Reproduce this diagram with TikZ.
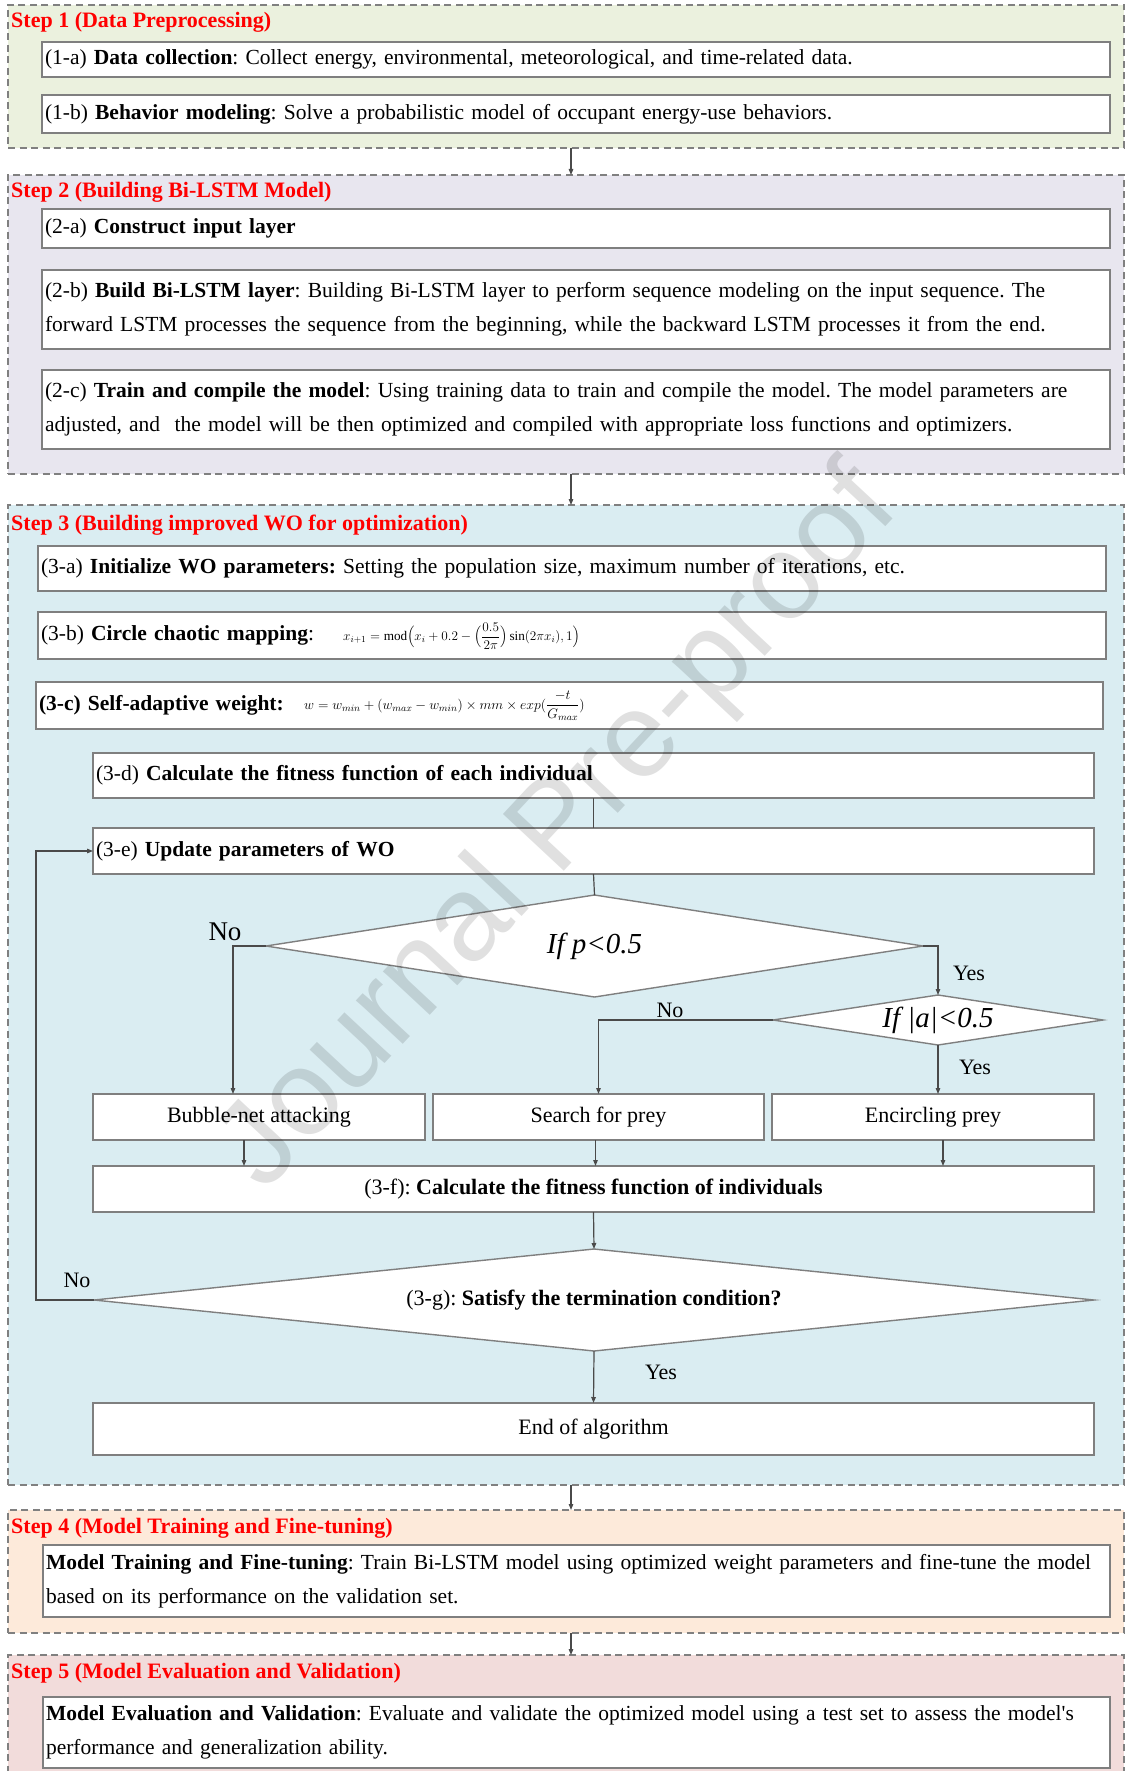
\RequirePackage{fix-cm}
\documentclass[tikz,border=0pt]{standalone}
\usepackage{amsmath}
\usepackage{fontspec}
\setmainfont{Liberation Serif}[Ligatures=TeXOff]
\newfontfamily\markfont{Liberation Sans}
\usetikzlibrary{arrows.meta,shapes.geometric,calc}
\frenchspacing

\definecolor{framegray}{HTML}{808080}
\definecolor{edgegray}{HTML}{7F7F7F}
\definecolor{linkgray}{HTML}{4A4A4A}
\definecolor{stepA}{HTML}{EBF1DE}
\definecolor{stepB}{HTML}{E8E6EF}
\definecolor{stepC}{HTML}{DAEDF2}
\definecolor{stepD}{HTML}{FDEADA}
\definecolor{stepE}{HTML}{F2DCDB}

\newcommand\bodyfont{\fontsize{21.5}{34}\selectfont}
\newcommand\flowfont{\fontsize{22}{34}\selectfont}
\newcommand\titlefont{\fontsize{22}{26}\selectfont\bfseries}

\begin{document}
\begin{tikzpicture}[x=1pt,y=-1pt,
  stepframe/.style={draw=framegray, line width=1.4pt, dash pattern=on 7pt off 4.5pt,
    anchor=north west, inner sep=0pt, outer sep=0pt},
  steptitle/.style={anchor=base west, text=red, font=\titlefont, inner sep=0pt},
  inbox/.style={draw=edgegray, line width=1.4pt, fill=white, anchor=north west,
    inner xsep=3pt, inner ysep=0pt, outer sep=0pt, align=left, font=\bodyfont},
  flowbox/.style={draw=edgegray, line width=1.4pt, fill=white, anchor=north west,
    inner sep=0pt, outer sep=0pt, align=center, font=\flowfont},
  decision/.style={draw=edgegray, line width=1.4pt, fill=white, shape=diamond,
    inner sep=0pt, outer sep=0pt},
  link/.style={draw=linkgray, line width=1.2pt},
  arr/.style={link, -{Triangle[length=6pt,width=4.5pt]}},
  lbl/.style={font=\flowfont, inner sep=0pt},
]
\useasboundingbox (0,0) rectangle (1126,1771);
\clip (0,0) rectangle (1126,1771);

% ---- step containers ----
\node[stepframe, fill=stepA, minimum width=1116pt, minimum height=143pt] (s1) at (8,5) {};
\node[stepframe, fill=stepB, minimum width=1116pt, minimum height=299pt] (s2) at (8,175) {};
\node[stepframe, fill=stepC, minimum width=1116pt, minimum height=980pt] (s3) at (8,505) {};
\node[stepframe, fill=stepD, minimum width=1116pt, minimum height=123pt] (s4) at (8,1510) {};
\node[stepframe, fill=stepE, minimum width=1116pt, minimum height=130pt] (s5) at (8,1655) {};

\node[steptitle] (t1) at (11,27.5) {Step 1 (Data Preprocessing)};
\node[steptitle] (t2) at (11,198) {Step 2 (Building Bi-LSTM Model)};
\node[steptitle] (t3) at (11,530) {Step 3 (Building improved WO for optimization)};
\node[steptitle] (t4) at (11,1533) {Step 4 (Model Training and Fine-tuning)};
\node[steptitle] (t5) at (11,1678) {Step 5 (Model Evaluation and Validation)};

% ---- step 1 ----
\node[inbox, minimum width=1068pt, minimum height=35pt, text width=1062pt] (b1a) at (42,42)
  {(1-a) \textbf{Data collection}: Collect energy, environmental, meteorological, and time-related data.};
\node[inbox, minimum width=1068pt, minimum height=38pt, text width=1062pt] (b1b) at (42,95)
  {(1-b) \textbf{Behavior modeling}: Solve a probabilistic model of occupant energy-use behaviors.};

% ---- step 2 ----
\node[inbox, minimum width=1068pt, minimum height=39pt, text width=1062pt] (b2a) at (42,209)
  {(2-a) \textbf{Construct input layer}};
\node[inbox, minimum width=1068pt, minimum height=79pt, text width=1062pt] (b2b) at (42,270)
  {\mbox{(2-b) \textbf{Build Bi-LSTM layer}: Building Bi-LSTM layer to perform sequence modeling on the input sequence. The}\\
   \mbox{forward LSTM processes the sequence from the beginning, while the backward LSTM processes it from the end.}};
\node[inbox, minimum width=1068pt, minimum height=79pt, text width=1062pt] (b2c) at (42,370)
  {\mbox{(2-c) \textbf{Train and compile the model}: Using training data to train and compile the model. The model parameters are}\\
   \mbox{adjusted, and\ \ the model will be then optimized and compiled with appropriate loss functions and optimizers.}};

% ---- step 3 ----
\node[inbox, minimum width=1068pt, minimum height=45pt, text width=1062pt] (b3a) at (38,546)
  {(3-a) \textbf{Initialize WO parameters:} Setting the population size, maximum number of iterations, etc.};
\node[inbox, minimum width=1068pt, minimum height=47pt, text width=1062pt] (b3b) at (38,612)
  {(3-b) \textbf{Circle chaotic mapping}:};
\node[anchor=west, inner sep=0pt, font=\fontsize{13.2}{15}\selectfont] (f3b) at (343,636)
  {$x_{i+1} = \mathrm{mod}\Bigl(x_i + 0.2 - \Bigl(\dfrac{0.5}{2\pi}\Bigr)\sin(2\pi x_i), 1\Bigr)$};
\node[inbox, minimum width=1067pt, minimum height=47pt, text width=1061pt] (b3c) at (36,682)
  {\textbf{(3-c) Self-adaptive weight:}};
\node[anchor=west, inner sep=0pt, font=\fontsize{13.8}{15}\selectfont] (f3c) at (304,706)
  {$w = w_{min} + (w_{max} - w_{min}) \times mm \times exp(\dfrac{-t}{G_{max}})$};

\node[inbox, minimum width=1001pt, minimum height=45pt, text width=995pt] (b3d) at (93,753)
  {(3-d) \textbf{Calculate the fitness function of each individual}};
\node[inbox, minimum width=1001pt, minimum height=46pt, text width=995pt] (b3e) at (93,828)
  {(3-e) \textbf{Update parameters of WO}};

\node[decision, minimum width=657pt, minimum height=102pt, aspect=6.4,
      font=\fontsize{29}{32}\selectfont\itshape] (d1) at (594.5,946) {If p<0.5};
\node[decision, minimum width=330pt, minimum height=50pt, aspect=6.6,
      font=\fontsize{29}{32}\selectfont\itshape] (d2) at (938,1020) {If |a|<0.5};

\node[flowbox, minimum width=332pt, minimum height=46pt] (bub) at (93,1094) {Bubble-net attacking};
\node[flowbox, minimum width=331pt, minimum height=46pt] (srch) at (433,1094) {Search for prey};
\node[flowbox, minimum width=322pt, minimum height=46pt] (enc) at (772,1094) {Encircling prey};

\node[flowbox, minimum width=1001pt, minimum height=46pt] (b3f) at (93,1166)
  {(3-f): \textbf{Calculate the fitness function of individuals}};

\node[decision, minimum width=1000pt, minimum height=102pt, aspect=9.8, font=\flowfont] (d3) at (594,1300)
  {(3-g): \textbf{Satisfy the termination condition?}};

\node[flowbox, minimum width=1001pt, minimum height=52pt] (fin) at (93,1403) {End of algorithm};

% ---- step 4 and step 5 ----
\node[inbox, minimum width=1067pt, minimum height=72pt, text width=1061pt] (b4) at (43,1545)
  {\mbox{\textbf{Model Training and Fine-tuning}: Train Bi-LSTM model using optimized weight parameters and fine-tune the model}\\
   \mbox{based on its performance on the validation set.}};
\node[inbox, minimum width=1067pt, minimum height=71pt, text width=1061pt] (b5) at (43,1697)
  {\mbox{\textbf{Model Evaluation and Validation}: Evaluate and validate the optimized model using a test set to assess the model's}\\
   \mbox{performance and generalization ability.}};

% ---- connectors between steps ----
\draw[arr] ([xshift=5pt]s1.south) -- ([xshift=5pt]s2.north);
\draw[arr] ([xshift=5pt]s2.south) -- ([xshift=5pt]s3.north);
\draw[arr] ([xshift=5pt]s3.south) -- ([xshift=5pt]s4.north);
\draw[arr] ([xshift=5pt]s4.south) -- ([xshift=5pt]s5.north);

% ---- optimisation loop ----
\draw[link] (b3d.south) -- (b3e.north);
\draw[link] (b3e.south) -- (d1.north);
\draw[arr] (d1.west) -| ([xshift=-26pt]bub.north);
\draw[arr] (d1.east) -| (d2.north);
\draw[arr] (d2.west) -| (srch.north);
\draw[arr] (d2.south) -- (d2.south |- enc.north);
\draw[arr] ([xshift=-15pt]bub.south) -- ([xshift=-15pt]bub.south |- b3f.north);
\draw[arr] ([xshift=-3pt]srch.south) -- ([xshift=-3pt]srch.south |- b3f.north);
\draw[arr] ([xshift=10pt]enc.south) -- ([xshift=10pt]enc.south |- b3f.north);
\draw[arr] (b3f.south) -- (d3.north);
\draw[arr] (d3.south) -- (fin.north);
\coordinate (loopc) at (36,1300);
\draw[arr] (d3.west) -- (loopc) |- (b3e.west);

% ---- branch labels ----
\node[lbl, font=\fontsize{27}{30}\selectfont] (n1) at (225,932) {No};
\node[lbl] (y1) at (969,973) {Yes};
\node[lbl] (n2) at (670,1010) {No};
\node[lbl] (y2) at (975,1067) {Yes};
\node[lbl] (n3) at (77,1280) {No};
\node[lbl] (y3) at (661,1372) {Yes};

% ---- watermark ----
\node[font=\fontsize{121}{121}\selectfont\markfont, text=black, opacity=0.12, rotate=47,
      inner sep=0pt] (wm) at (560,830) {Journal Pre-proof};
\end{tikzpicture}
\end{document}
